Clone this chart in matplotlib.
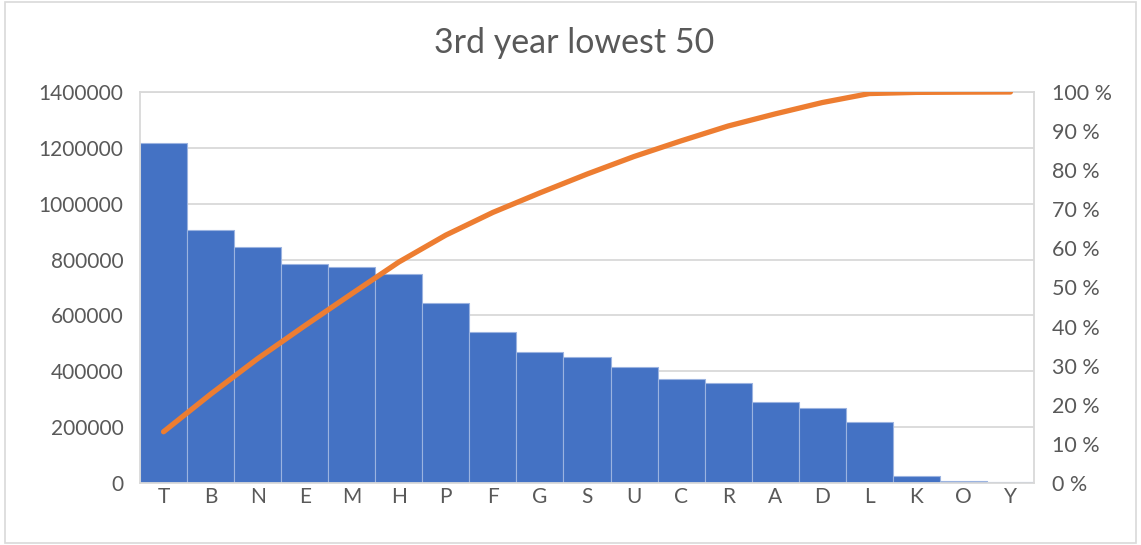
import matplotlib
matplotlib.use("Agg")
import matplotlib.pyplot as plt
from matplotlib.patches import Rectangle

# Values
categories = ["T", "B", "N", "E", "M", "H", "P", "F", "G", "S",
              "U", "C", "R", "A", "D", "L", "K", "O", "Y"]
values = [1219000, 905000, 844000, 783000, 772000, 750000, 643000, 541000,
          470000, 452000, 415000, 372000, 357000, 291000, 267000, 218000,
          26000, 8000, 4000]
cumulative_pct = [13.1, 22.7, 31.8, 40.2, 48.4, 56.5, 63.4, 69.2, 74.2, 79.0,
                  83.5, 87.5, 91.3, 94.4, 97.3, 99.6, 99.9, 99.96, 100.0]
left_ticks = [0, 200000, 400000, 600000, 800000, 1000000, 1200000, 1400000]
right_ticks = [0, 10, 20, 30, 40, 50, 60, 70, 80, 90, 100]

plt.rcParams["font.family"] = ["Lato", "DejaVu Sans"]
label_color = "#595959"
grid_color = "#d9d9d9"

fig = plt.figure(figsize=(11.41, 5.45), dpi=100)
ax = fig.add_axes([0.1227, 0.1138, 0.7835, 0.7174])

x = list(range(len(categories)))
ax.bar(x, values, width=1.0, color="#4472C4", edgecolor="#9bb3e0",
       linewidth=0.8, zorder=2)
ax.set_xlim(-0.5, len(categories) - 0.5)
ax.set_ylim(0, 1400000)
ax.set_yticks(left_ticks)
ax.set_yticklabels([str(t) for t in left_ticks])
ax.set_xticks(x)
ax.set_xticklabels(categories)
ax.yaxis.grid(True, color=grid_color, linewidth=1.3, zorder=0)
ax.set_axisbelow(True)
ax.tick_params(axis="both", length=0, labelsize=15, colors=label_color)
ax.tick_params(axis="x", pad=3)
ax.tick_params(axis="y", pad=12)
for s in ax.spines.values():
    s.set_color(grid_color)
    s.set_linewidth(1.3)

ax2 = ax.twinx()
ax2.plot(x, cumulative_pct, color="#ED7D31", linewidth=3.8,
         solid_capstyle="round", solid_joinstyle="round", zorder=3)
ax2.set_ylim(0, 100)
ax2.set_yticks(right_ticks)
ax2.set_yticklabels([f"{t} %" for t in right_ticks])
ax2.tick_params(axis="y", length=0, labelsize=15.5, colors=label_color, pad=13)
for s in ax2.spines.values():
    s.set_visible(False)

fig.text(0.503, 0.922, "3rd year lowest 50", ha="center", va="center",
         fontsize=24.5, color=label_color)

# outer chart border
fig.patches.append(Rectangle((0.004, 0.004), 0.992, 0.992, transform=fig.transFigure,
                             fill=False, edgecolor=grid_color, linewidth=1.2))

fig.savefig("out.png", dpi=100)
